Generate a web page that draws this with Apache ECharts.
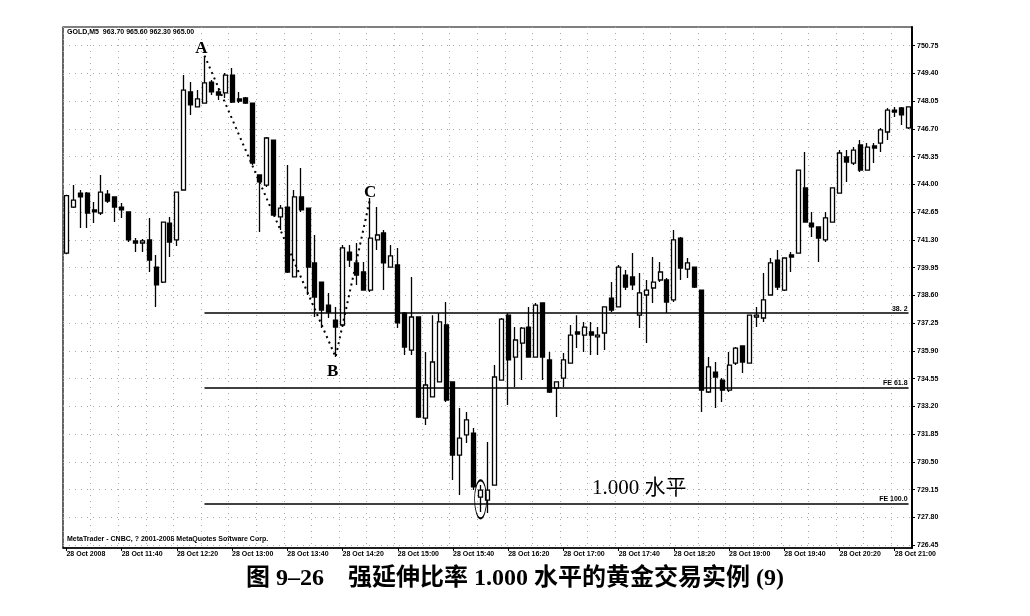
<!DOCTYPE html>
<html>
<head>
<meta charset="utf-8">
<script src="https://cdn.jsdelivr.net/npm/echarts@6/dist/echarts.min.js"></script>
<style>
  html, body { margin: 0; padding: 0; background: #fff; }
  #chart { width: 1030px; height: 616px; }
</style>
</head>
<body>
<div id="chart"></div>
<script>
// GOLD M5, 28 Oct 2008, one bar every 5 minutes from 11:00
// [open, close, low, high]
var ohlc = [
  [740.66, 743.46, 740.60, 743.50], [742.90, 743.24, 742.85, 743.97], [743.58, 743.39, 741.88, 743.73],
  [743.58, 742.61, 741.88, 743.63], [742.76, 742.66, 742.12, 743.14], [742.61, 743.63, 742.51, 744.46],
  [743.53, 743.19, 743.10, 743.73], [743.39, 742.90, 742.17, 743.39], [742.90, 742.76, 742.37, 743.10],
  [742.66, 741.30, 741.20, 742.66], [741.25, 741.15, 740.71, 741.39], [741.15, 741.25, 740.71, 741.35],
  [741.30, 740.32, 739.74, 742.37], [739.98, 739.11, 738.04, 740.57], [739.25, 742.17, 739.20, 742.17],
  [742.12, 741.20, 740.47, 742.42], [741.30, 743.63, 741.00, 743.63], [743.73, 748.59, 743.73, 749.32],
  [748.50, 747.87, 747.38, 748.98], [747.77, 748.16, 747.77, 748.59], [747.96, 748.94, 747.96, 750.25],
  [748.98, 748.50, 748.35, 749.08], [748.50, 748.35, 748.11, 748.69], [748.45, 749.32, 748.20, 749.42],
  [749.32, 748.01, 747.96, 749.66], [748.16, 748.06, 747.96, 748.50], [748.21, 747.96, 747.91, 748.25],
  [747.96, 745.04, 744.94, 747.96], [744.46, 744.12, 741.69, 744.46], [743.97, 746.26, 743.87, 746.31],
  [746.16, 742.51, 742.51, 746.16], [742.42, 742.85, 741.78, 743.00], [742.90, 739.74, 739.69, 744.94],
  [739.50, 743.39, 739.50, 743.73], [743.39, 742.76, 742.66, 744.80], [742.85, 739.98, 738.62, 742.85],
  [740.18, 738.52, 737.55, 741.54], [739.25, 737.89, 737.01, 739.25], [738.13, 737.79, 737.50, 738.72],
  [737.40, 737.06, 735.60, 738.04], [737.16, 740.91, 737.06, 741.05], [740.71, 740.32, 739.98, 741.05],
  [740.18, 739.59, 739.11, 741.15], [739.74, 738.86, 738.86, 740.23], [738.86, 741.39, 738.77, 743.34],
  [741.30, 741.54, 740.81, 742.90], [741.64, 740.18, 738.86, 741.78], [739.98, 740.52, 739.98, 741.05],
  [740.08, 737.26, 737.01, 740.91], [737.74, 736.09, 735.70, 737.79], [735.94, 737.55, 735.70, 739.50],
  [737.55, 732.68, 732.63, 737.55], [732.63, 734.24, 732.29, 735.85], [733.66, 735.36, 733.66, 737.64],
  [734.39, 737.31, 734.39, 737.74], [737.16, 733.51, 733.41, 738.28], [734.39, 730.83, 729.62, 734.39],
  [730.83, 731.66, 728.89, 733.12], [731.81, 732.54, 731.42, 732.93], [731.90, 729.28, 729.13, 732.15],
  [728.79, 729.13, 728.06, 729.37], [728.64, 729.13, 728.01, 731.47], [729.37, 734.63, 729.37, 735.21],
  [734.48, 737.45, 734.48, 737.50], [737.64, 735.46, 733.27, 737.74], [735.60, 736.43, 734.14, 737.06],
  [736.28, 737.01, 734.48, 737.06], [737.06, 735.60, 735.60, 738.04], [735.60, 738.13, 735.60, 738.23],
  [738.23, 735.60, 734.48, 738.23], [735.46, 733.90, 733.85, 735.85], [734.09, 734.39, 732.68, 734.39],
  [734.58, 735.46, 734.14, 735.80], [735.31, 736.67, 735.31, 737.16], [736.82, 736.72, 736.04, 737.64],
  [736.67, 737.06, 735.85, 737.31], [736.82, 736.67, 735.70, 737.31], [736.58, 736.67, 735.70, 737.06],
  [736.77, 738.04, 735.94, 738.04], [738.47, 737.89, 737.79, 739.25], [738.04, 739.98, 738.04, 740.08],
  [739.59, 739.01, 738.86, 739.84], [739.50, 739.11, 738.86, 740.66], [737.64, 738.72, 737.01, 739.69],
  [738.62, 738.86, 736.28, 739.35], [738.96, 739.25, 738.23, 740.47], [739.35, 739.74, 739.25, 740.23],
  [739.35, 738.28, 737.74, 739.45], [738.38, 741.30, 738.28, 741.78], [741.39, 739.93, 739.35, 741.44],
  [739.88, 740.18, 739.45, 740.42], [739.98, 739.01, 738.96, 739.98], [738.86, 733.99, 732.93, 738.86],
  [733.90, 735.12, 733.85, 735.60], [734.87, 734.63, 733.12, 735.36], [734.48, 733.99, 733.41, 734.58],
  [733.99, 735.21, 733.90, 735.85], [735.31, 736.04, 735.21, 736.09], [736.14, 735.36, 734.82, 736.14],
  [735.31, 737.64, 735.31, 737.64], [737.55, 737.64, 737.06, 738.04], [737.50, 738.38, 737.31, 739.69],
  [738.62, 740.18, 738.62, 740.42], [740.32, 739.01, 738.86, 740.81], [738.86, 740.42, 738.81, 740.42],
  [740.57, 740.47, 739.74, 740.71], [740.66, 744.70, 740.66, 744.70], [743.83, 742.17, 742.17, 745.58],
  [742.12, 741.93, 741.44, 742.66], [741.93, 741.39, 740.23, 741.93], [741.30, 742.37, 741.20, 742.66],
  [742.17, 743.83, 742.17, 743.83], [743.58, 745.53, 743.58, 745.67], [745.34, 745.09, 744.12, 745.67],
  [745.04, 745.67, 744.94, 745.82], [745.92, 744.70, 744.60, 746.16], [744.70, 745.82, 744.70, 746.01],
  [745.87, 745.77, 745.04, 746.01], [746.01, 746.65, 745.58, 746.75], [746.55, 747.62, 746.16, 747.72],
  [747.62, 747.52, 747.28, 747.77], [747.72, 747.38, 746.89, 747.77], [746.75, 747.77, 746.70, 747.80]
];

var timeLabels = ['28 Oct 2008', '28 Oct 11:40', '28 Oct 12:20', '28 Oct 13:00', '28 Oct 13:40',
  '28 Oct 14:20', '28 Oct 15:00', '28 Oct 15:40', '28 Oct 16:20', '28 Oct 17:00', '28 Oct 17:40',
  '28 Oct 18:20', '28 Oct 19:00', '28 Oct 19:40', '28 Oct 20:20', '28 Oct 21:00'];
var barsPerLabel = 8;

var priceTicks = [726.45, 727.80, 729.15, 730.50, 731.85, 733.20, 734.55, 735.90, 737.25, 738.60,
  739.95, 741.30, 742.65, 744.00, 745.35, 746.70, 748.05, 749.40, 750.75];

// swing points A, B, C: [bar index, price]
var swingNames = ['A', 'B', 'C'];
var swingPoints = [[20, 750.27], [39, 735.60], [44, 743.33]];

// extension levels drawn from A to the last bar
var fibLevels = [737.74, 734.13, 728.48];
var fibLabels = ['38. 2', 'FE 61.8', 'FE 100.0'];

// ringed low
var ringBar = 60, ringPrice = 728.68;

var categories = ohlc.map(function (d, i) {
  return i % barsPerLabel === 0 ? timeLabels[i / barsPerLabel] : '';
});

var smallFont = { fontSize: 7, fontWeight: 'bold', color: '#000', fontFamily: 'Liberation Sans' };

var option = {
  backgroundColor: '#fff',
  animation: false,
  grid: { left: 63, right: 118, top: 27, bottom: 68, show: true, borderColor: '#000', borderWidth: 1.2 },
  xAxis: {
    type: 'category',
    data: categories,
    boundaryGap: true,
    axisLine: { show: true, lineStyle: { color: '#000', width: 1.5 } },
    axisTick: { show: true, interval: barsPerLabel - 1, alignWithLabel: true, length: 3, lineStyle: { color: '#000' } },
    axisLabel: Object.assign({ interval: barsPerLabel - 1, align: 'left', margin: 3 }, smallFont),
    splitLine: { show: true, interval: 3, lineStyle: { color: '#aaa', width: 1, type: [1, 5] } }
  },
  yAxis: {
    type: 'value',
    position: 'right',
    min: 726.31,
    max: 751.66,
    axisLine: { show: true, lineStyle: { color: '#000', width: 2 } },
    axisTick: { show: true, length: 3, customValues: priceTicks, lineStyle: { color: '#000' } },
    axisLabel: Object.assign({ margin: 5, customValues: priceTicks, formatter: function (v) { return v.toFixed(2); } }, smallFont),
    splitLine: { show: true, lineStyle: { color: '#aaa', width: 1, type: [1, 5] } }
  },
  series: [
    {
      type: 'candlestick',
      data: ohlc,
      barWidth: 4.5,
      itemStyle: { color: '#fff', color0: '#000', borderColor: '#000', borderColor0: '#000', borderWidth: 1.3 },
      markLine: {
        silent: true,
        symbol: 'none',
        lineStyle: { color: '#000', width: 1.5, type: 'solid' },
        label: Object.assign({ position: 'insideEndTop', distance: 1 }, smallFont),
        data: fibLevels.map(function (v, i) {
          return [
            { coord: [swingPoints[0][0], v], label: { formatter: fibLabels[i] } },
            { coord: [ohlc.length - 1, v] }
          ];
        })
      },
      markPoint: {
        silent: true,
        symbol: 'circle',
        symbolSize: [12, 38],
        itemStyle: { color: 'rgba(0,0,0,0)', borderColor: '#000', borderWidth: 1.3 },
        label: { show: false },
        data: [{ coord: [ringBar, ringPrice] }]
      }
    },
    {
      type: 'line',
      data: swingPoints.map(function (p, i) {
        return {
          value: p,
          name: swingNames[i],
          label: { position: i === 1 ? 'bottom' : 'top', distance: i === 1 ? 6 : 0, offset: [i === 2 ? 0 : -3, i === 0 ? 2 : (i === 2 ? 3 : 0)] }
        };
      }),
      symbol: 'circle',
      symbolSize: 1,
      showSymbol: true,
      itemStyle: { color: 'rgba(0,0,0,0)' },
      lineStyle: { color: '#000', width: 2, type: [2, 4] },
      label: {
        show: true,
        formatter: function (p) { return p.name; },
        fontSize: 17,
        fontWeight: 'bold',
        fontFamily: 'Liberation Serif',
        color: '#000'
      },
      z: 3
    }
  ],
  graphic: [
    { type: 'text', left: 67, top: 29, style: { text: 'GOLD,M5  963.70 965.60 962.30 965.00', font: 'bold 7px Liberation Sans', fill: '#000' } },
    { type: 'text', left: 67, top: 536, style: { text: 'MetaTrader - CNBC, ? 2001-2008 MetaQuotes Software Corp.', font: 'bold 7px Liberation Sans', fill: '#000' } },
    { type: 'text', left: 592, top: 478, style: { text: '1.000 水平', font: '21px "Liberation Serif", "Noto Sans CJK SC"', fill: '#000' } },
    { type: 'text', left: 'center', top: 567, style: { text: '图 9–26　强延伸比率 1.000 水平的黄金交易实例 (9)', font: 'bold 24px "Liberation Serif", "Noto Sans CJK SC"', fill: '#000' } }
  ]
};

var myChart = echarts.init(document.getElementById('chart'));
myChart.setOption(option);
</script>
</body>
</html>
